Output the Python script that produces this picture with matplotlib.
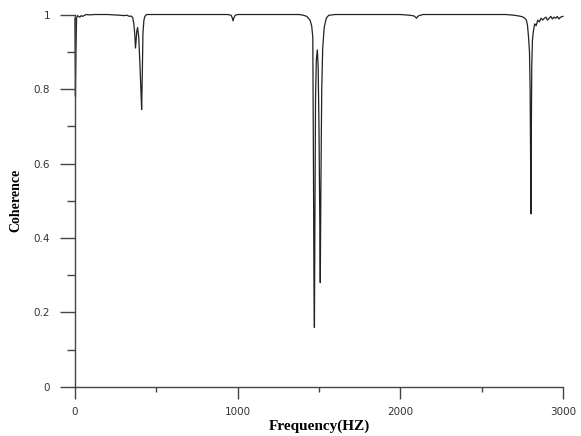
import matplotlib
matplotlib.use('Agg')
import matplotlib.pyplot as plt
from matplotlib.ticker import MultipleLocator

# Coherence spectrum (Hz, coherence)
freq = [0, 3, 6, 10, 15, 22, 30, 38, 46, 55, 70, 90, 120, 160, 200, 240, 280,
        300, 320, 335, 345, 355, 362, 368, 372, 376, 380, 385, 392, 400, 406,
        410, 414, 418, 424, 430, 440, 455, 480, 550, 700, 850, 940, 960, 968,
        972, 976, 985, 1000, 1150, 1300, 1380, 1405, 1425, 1445, 1455, 1462,
        1466, 1469, 1472, 1475, 1479, 1484, 1490, 1495, 1500, 1504, 1508, 1512,
        1517, 1523, 1532, 1545, 1560, 1600, 1800, 2000, 2060, 2085, 2095, 2100,
        2105, 2115, 2140, 2300, 2500, 2650, 2700, 2730, 2750, 2765, 2775, 2782,
        2788, 2794, 2798, 2801, 2803, 2805, 2808, 2812, 2818, 2826, 2835, 2845,
        2855, 2865, 2875, 2885, 2895, 2905, 2915, 2925, 2935, 2945, 2955, 2965,
        2975, 2985, 3000]
coh = [0.99, 0.78, 0.9, 0.99, 0.997, 0.995, 0.993, 0.997, 0.995, 0.997, 1.0,
       0.999, 1.0, 1.0, 1.0, 0.999, 0.998, 0.997, 0.998, 0.995, 0.996, 0.992,
       0.975, 0.945, 0.91, 0.93, 0.955, 0.965, 0.94, 0.86, 0.79, 0.745, 0.84,
       0.95, 0.985, 0.995, 1.0, 1.0, 1.0, 1.0, 1.0, 1.0, 1.0, 0.998, 0.99,
       0.983, 0.99, 0.998, 1.0, 1.0, 1.0, 1.0, 0.998, 0.995, 0.985, 0.97, 0.94,
       0.6, 0.3, 0.16, 0.45, 0.78, 0.88, 0.905, 0.86, 0.7, 0.5, 0.28, 0.55,
       0.8, 0.91, 0.965, 0.99, 0.998, 1.0, 1.0, 1.0, 0.998, 0.996, 0.992, 0.99,
       0.994, 0.997, 1.0, 1.0, 1.0, 1.0, 0.998, 0.996, 0.994, 0.99, 0.985,
       0.97, 0.94, 0.9, 0.8, 0.6, 0.465, 0.65, 0.86, 0.93, 0.955, 0.975, 0.97,
       0.985, 0.98, 0.99, 0.985, 0.99, 0.993, 0.985, 0.99, 0.995, 0.988, 0.993,
       0.99, 0.995, 0.988, 0.993, 0.995]

xticks = [0, 1000, 2000, 3000]
yticks = [0, 0.2, 0.4, 0.6, 0.8, 1]
ytick_labels = ['0', '0.2', '0.4', '0.6', '0.8', '1']

fig = plt.figure(figsize=(5.81, 4.36), dpi=100)
ax = fig.add_axes([0.129, 0.1124, 0.840, 0.8543])

ax.plot(freq, coh, color='#222222', linewidth=0.9, clip_on=False)

ax.set_xlim(0, 3000)
ax.set_ylim(0, 1)

for s in ['top', 'right']:
    ax.spines[s].set_visible(False)
for s in ['left', 'bottom']:
    ax.spines[s].set_color('#444444')
    ax.spines[s].set_linewidth(1.0)

ax.set_xticks(xticks)
ax.set_xticklabels([str(t) for t in xticks])
ax.set_yticks(yticks)
ax.set_yticklabels(ytick_labels)
ax.xaxis.set_minor_locator(MultipleLocator(500))
ax.yaxis.set_minor_locator(MultipleLocator(0.1))

ax.tick_params(axis='y', which='major', direction='out', length=10.8, width=1,
               color='#444444', pad=7, labelsize=7.5, labelcolor='#333333')
ax.tick_params(axis='y', which='minor', direction='out', length=5.8, width=1,
               color='#444444')
ax.tick_params(axis='x', which='major', direction='out', length=8.5, width=1,
               color='#444444', pad=6, labelsize=7.5, labelcolor='#333333')
ax.tick_params(axis='x', which='minor', direction='out', length=3.6, width=1,
               color='#444444')

ax.set_xlabel('Frequency(HZ)', family='Liberation Serif', fontweight='bold',
              fontsize=11, labelpad=2)
ax.set_ylabel('Coherence', family='Liberation Serif', fontweight='bold',
              fontsize=10, labelpad=8)

fig.savefig('out.png', dpi=100)
